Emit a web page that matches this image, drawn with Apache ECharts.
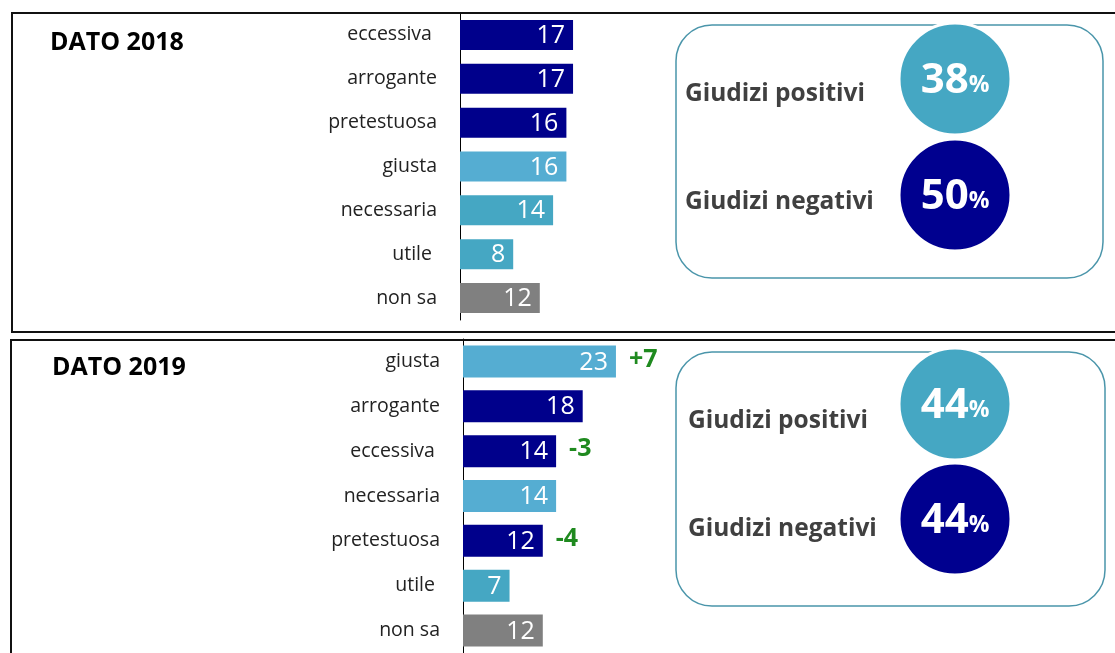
<!DOCTYPE html>
<html>
<head>
<meta charset="utf-8">
<script src="https://cdn.jsdelivr.net/npm/echarts@6/dist/echarts.min.js"></script>
<style>
  html, body { margin: 0; padding: 0; background: #fff; }
  #main { width: 1115px; height: 653px; }
</style>
</head>
<body>
<div id="main"></div>
<script>
// dati 2018
const cats2018 = ['eccessiva ', 'arrogante', 'pretestuosa', 'giusta', 'necessaria', 'utile ', 'non sa'];
const vals2018 = [17, 17, 16, 16, 14, 8, 12];
const cols2018 = ['#00008b', '#00008b', '#00008b', '#55add2', '#45a7c3', '#45a7c3', '#808080'];

// dati 2019
const cats2019 = ['giusta', 'arrogante', 'eccessiva ', 'necessaria', 'pretestuosa', 'utile ', 'non sa'];
const vals2019 = [23, 18, 14, 14, 12, 7, 12];
const cols2019 = ['#55add2', '#00008b', '#00008b', '#55add2', '#00008b', '#45a7c3', '#808080'];
const delta2019 = ['+7', '', '-3', '', '-4', '', ''];

// giudizi
const giudiziLabels = ['Giudizi positivi', 'Giudizi negativi'];
const giudizi2018 = [38, 50];
const giudizi2019 = [44, 44];

const FONT = '"Open Sans", "Noto Sans", sans-serif';
const chart = echarts.init(document.getElementById('main'));

const yAxisBase = (data) => ({
    type: 'category',
    inverse: true,
    data: data,
    axisLine: { show: true, lineStyle: { color: '#000', width: 1 } },
    axisTick: { show: false },
    axisLabel: { fontSize: 19.5, color: '#222', margin: 23, fontFamily: FONT },
    splitLine: { show: false }
});

const xAxisBase = (idx) => ({
    type: 'value',
    gridIndex: idx,
    min: 0,
    max: 30,
    show: false
});

const valueLabel = {
    show: true,
    position: 'insideRight',
    distance: 8,
    color: '#fff',
    fontSize: 25,
    fontFamily: FONT,
    offset: [0, 1]
};

// riquadro giudizi (box + cerchi + testi)
function giudiziBox(box, labels, values, textX, c1y, c2y, t1y, t2y) {
    const els = [];
    els.push({
        type: 'rect',
        shape: { x: box.x, y: box.y, width: box.w, height: box.h, r: 36 },
        style: { fill: '#fff', stroke: '#4a95aa', lineWidth: 1.5 },
        z: 10
    });
    const circleCols = ['#45a7c3', '#00008f'];
    [c1y, c2y].forEach((cy, i) => {
        els.push({
            type: 'circle',
            shape: { cx: 955, cy: cy, r: 56 },
            style: { fill: circleCols[i], stroke: '#fff', lineWidth: 3 },
            z: 11
        });
        els.push({
            type: 'text',
            x: 955,
            y: cy + 2,
            style: {
                text: '{n|' + values[i] + '}{p|%}',
                align: 'center',
                verticalAlign: 'middle',
                rich: {
                    n: { fontSize: 42, fontWeight: 'bold', fill: '#fff', fontFamily: FONT },
                    p: { fontSize: 23, fontWeight: 'bold', fill: '#fff', fontFamily: FONT, padding: [8, 0, 0, 0] }
                }
            },
            z: 12
        });
    });
    [t1y, t2y].forEach((ty, i) => {
        els.push({
            type: 'text',
            x: textX,
            y: ty,
            style: {
                text: labels[i],
                fontSize: 24.5,
                fontWeight: 'bold',
                fill: '#404040',
                fontFamily: FONT,
                verticalAlign: 'middle'
            },
            z: 12
        });
    });
    return els;
}

const option = {
    animation: false,
    grid: [
        { left: 460, top: 13, width: 199.5, height: 307 },
        { left: 463, top: 339, width: 199.5, height: 320 }
    ],
    xAxis: [xAxisBase(0), xAxisBase(1)],
    yAxis: [
        Object.assign(yAxisBase(cats2018), { gridIndex: 0 }),
        Object.assign(yAxisBase(cats2019), { gridIndex: 1 })
    ],
    series: [
        {
            type: 'bar',
            xAxisIndex: 0,
            yAxisIndex: 0,
            barWidth: 30,
            data: vals2018.map((v, i) => ({ value: v, itemStyle: { color: cols2018[i] } })),
            label: valueLabel,
            z: 3
        },
        {
            type: 'bar',
            xAxisIndex: 1,
            yAxisIndex: 1,
            barWidth: 32,
            data: vals2019.map((v, i) => ({ value: v, itemStyle: { color: cols2019[i] } })),
            label: valueLabel,
            z: 3
        },
        {
            // variazioni rispetto al 2018
            type: 'bar',
            xAxisIndex: 1,
            yAxisIndex: 1,
            barWidth: 32,
            barGap: '-100%',
            data: vals2019,
            itemStyle: { color: 'transparent' },
            silent: true,
            label: {
                show: true,
                position: 'right',
                distance: 13,
                formatter: (p) => delta2019[p.dataIndex],
                color: '#1f8a1f',
                fontSize: 25,
                fontWeight: 'bold',
                fontFamily: FONT,
                offset: [0, -2]
            },
            z: 4
        }
    ],
    graphic: [
        {
            type: 'rect',
            shape: { x: 12, y: 13, width: 1120, height: 319 },
            style: { fill: 'none', stroke: '#111', lineWidth: 2 },
            z: 1
        },
        {
            type: 'rect',
            shape: { x: 11, y: 340, width: 1120, height: 330 },
            style: { fill: 'none', stroke: '#111', lineWidth: 2 },
            z: 1
        },
        {
            type: 'text',
            x: 50,
            y: 43,
            style: { text: 'DATO 2018', fontSize: 25, fontWeight: 'bold', fill: '#000', fontFamily: FONT, verticalAlign: 'middle' },
            z: 5
        },
        {
            type: 'text',
            x: 52,
            y: 368,
            style: { text: 'DATO 2019', fontSize: 25, fontWeight: 'bold', fill: '#000', fontFamily: FONT, verticalAlign: 'middle' },
            z: 5
        },
        ...giudiziBox({ x: 676, y: 25, w: 427, h: 253 }, giudiziLabels, giudizi2018, 685, 79, 195, 94, 202),
        ...giudiziBox({ x: 676, y: 352, w: 429, h: 254 }, giudiziLabels, giudizi2019, 688, 404, 519, 421, 529)
    ]
};

chart.setOption(option);
window.addEventListener('resize', () => chart.resize());
</script>
</body>
</html>
